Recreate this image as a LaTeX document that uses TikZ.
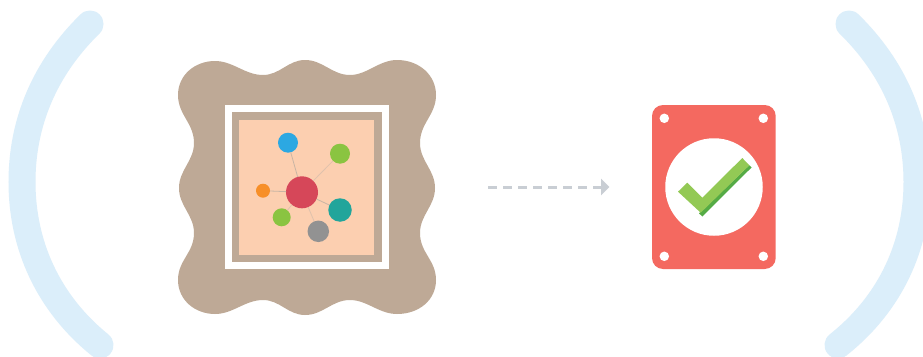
\documentclass[tikz,border=0pt]{standalone}
\usetikzlibrary{arrows.meta}
\definecolor{archc}{HTML}{DBEEFA}
\definecolor{tan}{HTML}{BEA996}
\definecolor{peach}{HTML}{FCCFB0}
\definecolor{hub}{HTML}{D64759}
\definecolor{bluec}{HTML}{2CA8E2}
\definecolor{greenc}{HTML}{8AC441}
\definecolor{orangec}{HTML}{F78F28}
\definecolor{tealc}{HTML}{21A59B}
\definecolor{grayc}{HTML}{929292}
\definecolor{linkc}{HTML}{C9B5A4}
\definecolor{linkf}{HTML}{DFC2AC}
\definecolor{arrowc}{HTML}{C9CED4}
\definecolor{card}{HTML}{F46960}
\definecolor{tickl}{HTML}{93C955}
\definecolor{tickd}{HTML}{55AB45}
\tikzset{
  archline/.style={draw=archc,line width=27pt,line cap=round},
  dot/.style={circle,inner sep=0pt,outer sep=0pt,minimum size=#1},
  link/.style={draw=linkc,line width=0.8pt},
  faintlink/.style={draw=linkf,line width=0.8pt},
  flow/.style={draw=arrowc,line width=3pt,dash pattern=on 8.5pt off 6.5pt,-{Triangle[length=8.5pt,width=16pt,fill=arrowc]}},
  hole/.style={fill=white,circle,inner sep=0pt,outer sep=0pt,minimum size=9.5pt}
}
\begin{document}
\begin{tikzpicture}[x=1pt,y=-1pt]
\useasboundingbox (0,0) rectangle (923,356);
\clip (0,0) rectangle (923,356);
\fill[white] (0,0) rectangle (923,356);
% brackets
\path[archline] (90,24) .. controls (45,68) and (22,122) .. (22,182) .. controls (22,245) and (48,303) .. (100,345);
\path[archline] (849,24) .. controls (894,68) and (917,122) .. (917,182) .. controls (917,245) and (891,303) .. (838,345);
% wavy frame
\fill[tan] (178,95)
  .. controls (178,75) and (195,61) .. (215,61)
  .. controls (233,61) and (245,75) .. (263,75)
  .. controls (280,75) and (288,60) .. (305,60)
  .. controls (323,60) and (332,75) .. (350,75)
  .. controls (367,75) and (379,60) .. (397,60)
  .. controls (419,60) and (436,75) .. (436,95)
  .. controls (436,115) and (420,123) .. (420,143)
  .. controls (420,161) and (435,170) .. (435,188)
  .. controls (435,206) and (420,215) .. (420,233)
  .. controls (420,253) and (436,260) .. (436,280)
  .. controls (436,300) and (419,314) .. (397,314)
  .. controls (379,314) and (367,300) .. (350,300)
  .. controls (332,300) and (323,315) .. (305,315)
  .. controls (288,315) and (280,300) .. (263,300)
  .. controls (245,300) and (233,314) .. (215,314)
  .. controls (195,314) and (178,300) .. (178,280)
  .. controls (178,260) and (194,253) .. (194,233)
  .. controls (194,215) and (179,206) .. (179,188)
  .. controls (179,170) and (194,161) .. (194,143)
  .. controls (194,123) and (178,115) .. (178,95) -- cycle;
\fill[white] (225,105) rectangle (389,269);
\fill[tan] (232,112.3) rectangle (382,262.3);
\fill[peach] (239,120) rectangle (374,255);
% network
\node[dot=32pt,fill=hub] (n0) at (302,192.3) {};
\node[dot=20pt,fill=bluec] (n1) at (288,142.7) {};
\node[dot=20pt,fill=greenc] (n2) at (340,153.7) {};
\node[dot=14pt,fill=orangec] (n3) at (263,190.7) {};
\node[dot=18pt,fill=greenc] (n4) at (281.7,217.3) {};
\node[dot=23.5pt,fill=tealc] (n5) at (340,210) {};
\node[dot=21.5pt,fill=grayc] (n6) at (318.3,231.3) {};
\draw[link] (n0) -- (n1);
\draw[faintlink] (n0) -- (n2);
\draw[link] (n0) -- (n3);
\draw[faintlink] (n0) -- (n4);
\draw[link] (n0) -- (n5);
\draw[faintlink] (n0) -- (n6);
% arrow
\coordinate (fromc) at (488,187);
\coordinate (toc) at (609.5,187);
\draw[flow] (fromc) -- (toc);
% card
\fill[card,rounded corners=11pt] (652,105) rectangle (775.7,269);
\node[hole] (h1) at (664.3,118.3) {};
\node[hole] (h2) at (763.3,118.3) {};
\node[hole] (h3) at (664.3,256.3) {};
\node[hole] (h4) at (763.3,256.3) {};
\node[dot=97.5pt,fill=white] (disc) at (714,187) {};
% check
\fill[tickd] (749.3,165.3) -- (751.5,167.5) -- (702.3,216.5) -- (699,213.3) -- cycle;
\fill[tickl] (678,191.7) -- (687.3,182.7) -- (702.3,197.7) -- (742.3,158) -- (749.3,165.3) -- (700.7,212.7) -- cycle;
\end{tikzpicture}
\end{document}
